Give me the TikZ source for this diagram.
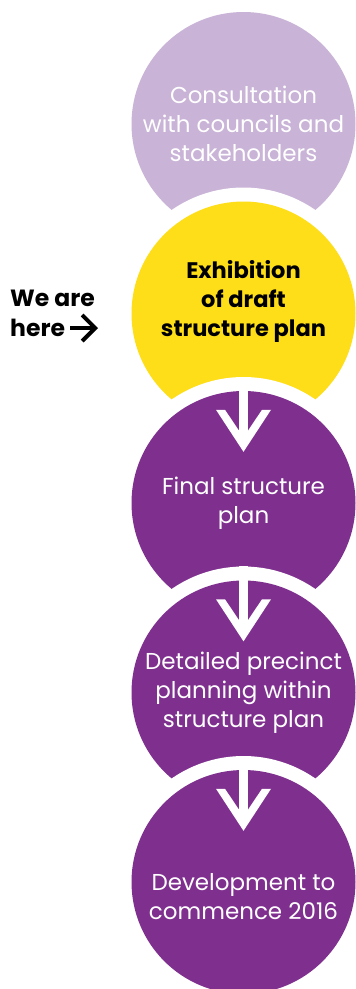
\documentclass[tikz,border=0pt]{standalone}
\usepackage{fontspec}
\setmainfont{Poppins}
\usetikzlibrary{arrows.meta, calc}

\definecolor{lilac}{RGB}{201,179,215}
\definecolor{sunyellow}{RGB}{254,221,25}
\definecolor{plum}{RGB}{127,48,143}

\tikzset{
  stage/.style={circle, minimum size=224pt, inner sep=0pt,
    preaction={draw=white, line width=28pt}},
  stagetext/.style={text=white, align=center, font=\fontsize{23}{29}\selectfont},
  heretext/.style={font=\bfseries\fontsize{23.5}{30}\selectfont, inner sep=0pt, anchor=base west},
}

\begin{document}
\begin{tikzpicture}[x=1pt, y=-1pt]
  \useasboundingbox (0,0) rectangle (356,989);
  % the five stages
    \node[stage, fill=lilac] (c1) at (243.5,124) {};
    \node[stagetext] (t1) at (c1) {Consultation\\with councils and\\stakeholders};
    \node[stage, fill=sunyellow] (c2) at (243.5,313.5) {};
    \node[stagetext, text=black, font=\bfseries\fontsize{22.5}{29}\selectfont] (t2) at ($(c2)+(0,-12)$) {Exhibition\\of draft\\structure plan};
    \node[stage, fill=plum] (c3) at (243.5,503) {};
    \node[stagetext] (t3) at ($(c3)+(0,0)$) {Final structure\\plan};
    \node[stage, fill=plum] (c4) at (243.5,692.5) {};
    \node[stagetext] (t4) at (c4) {Detailed precinct\\planning within\\structure plan};
    \node[stage, fill=plum] (c5) at (243.5,882) {};
    \node[stagetext] (t5) at ($(c5)+(0,15)$) {Development to\\commence 2016};
  % white arrows between the stages
    \foreach \n in {3,4,5}{
      \fill[white] ($(c\n.north)+(-4.5,-14)$) rectangle ($(c\n.north)+(4.5,50)$);
      \fill[white] ($(c\n.north)+(-27.5,19)$) -- ++(9,0) -- ++(18.5,27.5) -- ++(18.5,-27.5)
        -- ++(9,0) -- ++(-27.5,42) -- cycle;
    }
  % we are here
    \node[heretext] (we) at (10,306.7) {We are};
    \node[heretext] (here) at (10,336.7) {here};
    \coordinate (tip) at (98,328);
    \draw[line width=4pt, -{Straight Barb[length=13pt, width=26pt]}] ($(here.east |- tip)+(5,0)$) -- (tip);
\end{tikzpicture}
\end{document}
